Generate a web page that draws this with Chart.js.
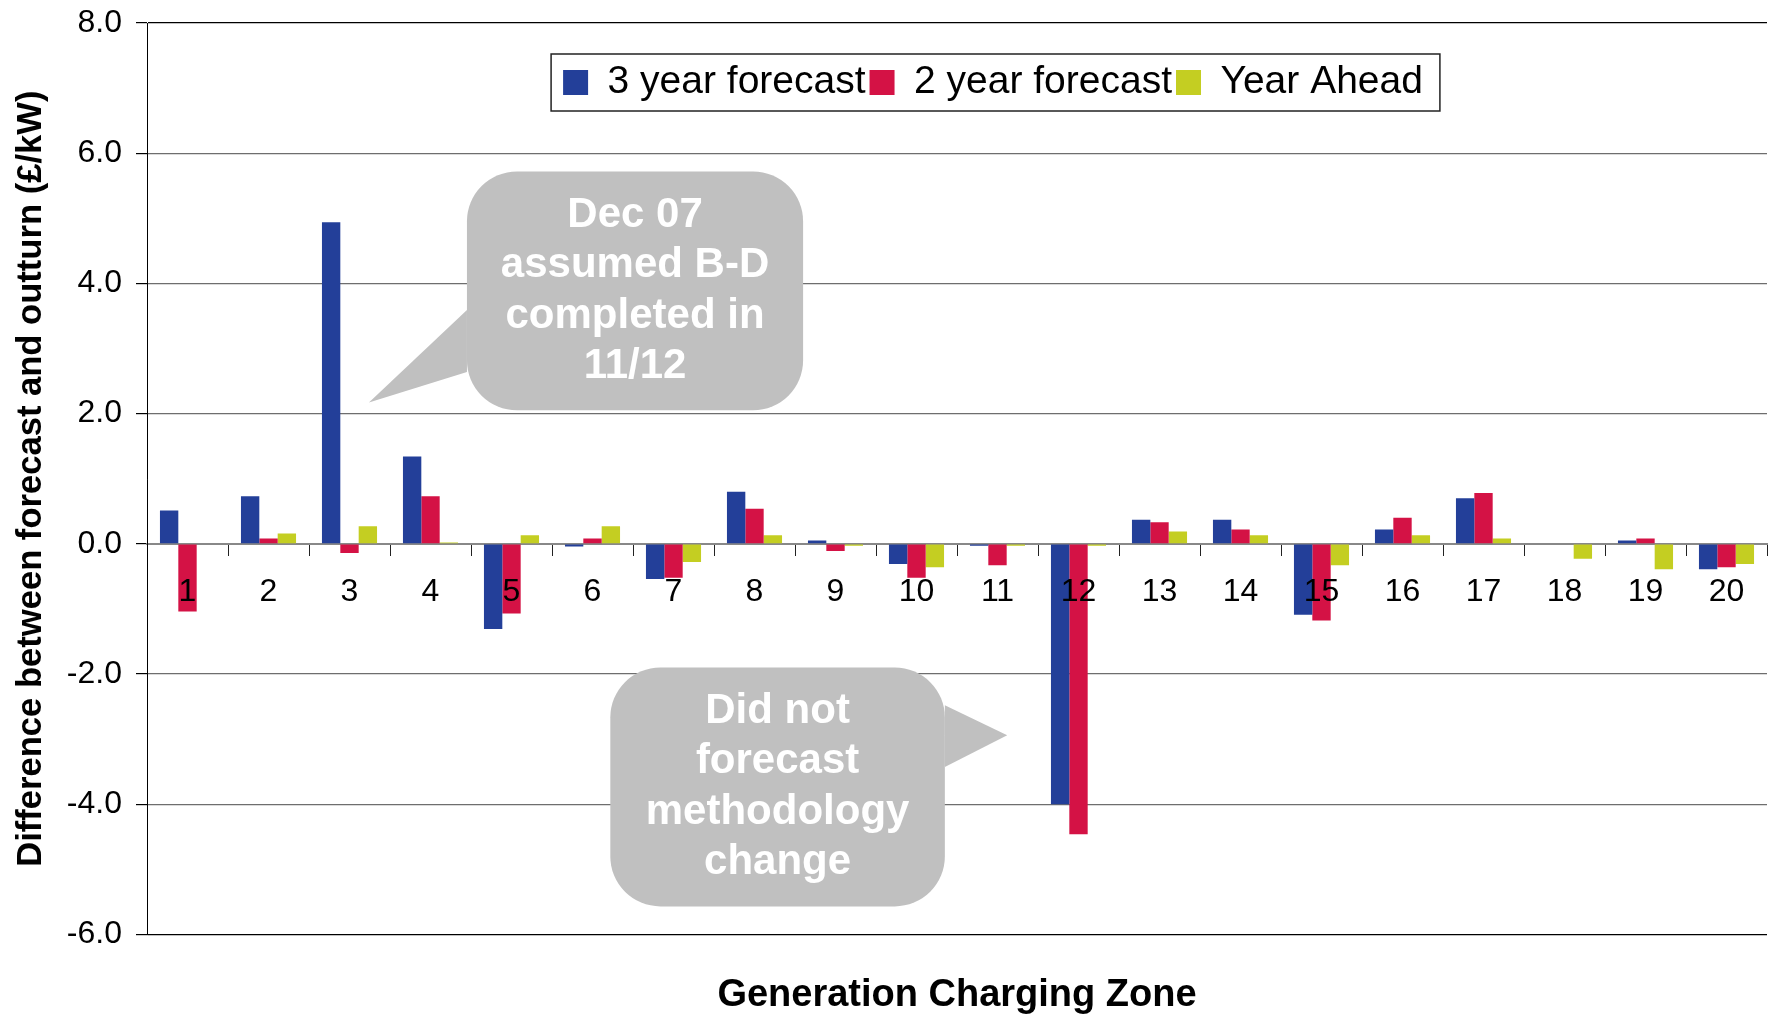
<!DOCTYPE html>
<html>
<head>
<meta charset="utf-8">
<script src="https://cdn.jsdelivr.net/npm/chart.js@4.4.0/dist/chart.umd.min.js"></script>
<style>
  html, body { margin: 0; padding: 0; background: #fff; }
  #wrap { width: 1769px; height: 1018px; }
</style>
</head>
<body>
<div id="wrap"><canvas id="zoneChart" width="1769" height="1018"></canvas></div>
<script>
// 数据
const zones = ['1', '2', '3', '4', '5', '6', '7', '8', '9', '10', '11', '12', '13', '14', '15', '16', '17', '18', '19', '20'];
const threeYear = [0.51, 0.73, 4.94, 1.34, -1.31, -0.04, -0.54, 0.80, 0.05, -0.31, -0.03, -4.00, 0.37, 0.37, -1.09, 0.22, 0.70, -0.01, 0.05, -0.39];
const twoYear = [-1.04, 0.08, -0.14, 0.73, -1.07, 0.08, -0.52, 0.54, -0.11, -0.52, -0.33, -4.46, 0.33, 0.22, -1.18, 0.40, 0.78, -0.01, 0.08, -0.36];
const yearAhead = [0.01, 0.16, 0.27, 0.02, 0.13, 0.27, -0.28, 0.13, -0.03, -0.36, -0.03, -0.03, 0.19, 0.13, -0.33, 0.13, 0.08, -0.23, -0.39, -0.31];
const yTicks = [-6, -4, -2, 0, 2, 4, 6, 8];

// 标注框（以轴数值定位）
const callouts = [
    { lines: ['Dec 07', 'assumed B-D', 'completed in', '11/12'],
      box: [3.45, 7.60, 5.72, 2.05], base: [3.59, 2.64], tip: [2.24, 2.17], side: 'left' },
    { lines: ['Did not', 'forecast', 'methodology', 'change'],
      box: [5.22, 9.35, -1.90, -5.57], base: [-2.48, -3.43], tip: [10.12, -2.94], side: 'right' }
];

const FONT = '"Liberation Sans", Arial, Helvetica, sans-serif';
Chart.defaults.font.family = FONT;
Chart.defaults.color = '#000';

const legendShift = { x: 183, y: 36 };

const calloutPlugin = {
    id: 'callouts',
    beforeLayout(chart) {
        // 图例放在绘图区内，但仍按横向排列
        if (chart.legend) chart.legend.isHorizontal = () => true;
    },
    afterLayout(chart) {
        const lg = chart.legend;
        if (!lg) return;
        lg.left += legendShift.x; lg.right += legendShift.x;
        lg.top += legendShift.y; lg.bottom += legendShift.y;
    },
    afterDraw(chart) {
        const ctx = chart.ctx;
        const xs = chart.scales.x, ys = chart.scales.y;

        // 图例边框
        const hb = chart.legend.legendHitBoxes;
        if (hb && hb.length) {
            const last = hb[hb.length - 1];
            const yc = hb[0].top + hb[0].height / 2;
            ctx.save();
            ctx.strokeStyle = '#222';
            ctx.lineWidth = 1.5;
            ctx.strokeRect(hb[0].left - 12, yc - 28.5, last.left + last.width + 17 - (hb[0].left - 12), 57);
            ctx.restore();
        }

        callouts.forEach(c => {
            const x0 = xs.getPixelForValue(c.box[0]);
            const x1 = xs.getPixelForValue(c.box[1]);
            const y0 = ys.getPixelForValue(c.box[2]);
            const y1 = ys.getPixelForValue(c.box[3]);
            const bx = c.side === 'left' ? x0 : x1;
            ctx.save();
            ctx.fillStyle = '#c0c0c0';
            ctx.beginPath();
            ctx.roundRect(x0, y0, x1 - x0, y1 - y0, 50);
            ctx.fill();
            ctx.beginPath();
            ctx.moveTo(bx, ys.getPixelForValue(c.base[0]));
            ctx.lineTo(xs.getPixelForValue(c.tip[0]), ys.getPixelForValue(c.tip[1]));
            ctx.lineTo(bx, ys.getPixelForValue(c.base[1]));
            ctx.closePath();
            ctx.fill();
            ctx.fillStyle = '#fff';
            ctx.font = 'bold 42px ' + FONT;
            ctx.textAlign = 'center';
            ctx.textBaseline = 'middle';
            const cx = (x0 + x1) / 2, cy = (y0 + y1) / 2, lh = 50.5;
            c.lines.forEach((t, i) => {
                ctx.fillText(t, cx, cy + (i - (c.lines.length - 1) / 2) * lh);
            });
            ctx.restore();
        });
    }
};

new Chart(document.getElementById('zoneChart').getContext('2d'), {
    type: 'bar',
    data: {
        labels: zones,
        datasets: [
            { label: '3 year forecast', data: threeYear, backgroundColor: '#233f99' },
            { label: '2 year forecast', data: twoYear, backgroundColor: '#d41245' },
            { label: 'Year Ahead', data: yearAhead, backgroundColor: '#c4ce22' }
        ]
    },
    options: {
        responsive: false,
        animation: false,
        layout: { padding: { top: 23, right: 2, left: 0, bottom: 0 } },
        datasets: { bar: { categoryPercentage: 0.68, barPercentage: 1, borderWidth: 0 } },
        plugins: {
            tooltip: { enabled: false },
            legend: {
                position: 'chartArea',
                align: 'center',
                labels: { boxWidth: 25, boxHeight: 25, padding: 4, color: '#000', font: { size: 39 } }
            },
            title: {
                display: true,
                position: 'bottom',
                fullSize: false,
                text: 'Generation Charging Zone',
                color: '#000',
                font: { size: 38, weight: 'bold' },
                padding: { top: 38, bottom: 0 }
            }
        },
        scales: {
            x: {
                position: { y: 0 },
                grid: { drawOnChartArea: false, drawTicks: true, tickLength: 11, color: '#222', offset: true },
                border: { display: true, color: '#888', width: 2 },
                ticks: { color: '#000', font: { size: 32 }, padding: 18, autoSkip: false, maxRotation: 0, z: 1 },
                afterFit(scale) { scale.height = 0; }
            },
            y: {
                min: yTicks[0],
                max: yTicks[yTicks.length - 1],
                afterBuildTicks(scale) { scale.ticks = yTicks.map(v => ({ value: v })); },
                ticks: { color: '#000', font: { size: 32 }, padding: 14, callback: v => Number(v).toFixed(1) },
                grid: {
                    tickLength: 11,
                    tickColor: '#000',
                    lineWidth: 1.2,
                    color: ctx => (ctx.tick && (ctx.tick.value === 8 || ctx.tick.value === -6)) ? '#000' : '#6e6e6e'
                },
                border: { display: true, color: '#000', width: 1 },
                title: {
                    display: true,
                    text: 'Difference between forecast and outturn (£/kW)',
                    color: '#000',
                    font: { size: 34.6, weight: 'bold' },
                    padding: { top: 11 }
                },
                afterFit(scale) {
                    scale.width = 147;
                    scale.paddingTop = 0;
                    scale.paddingBottom = 0;
                }
            }
        }
    },
    plugins: [calloutPlugin]
});
</script>
</body>
</html>
